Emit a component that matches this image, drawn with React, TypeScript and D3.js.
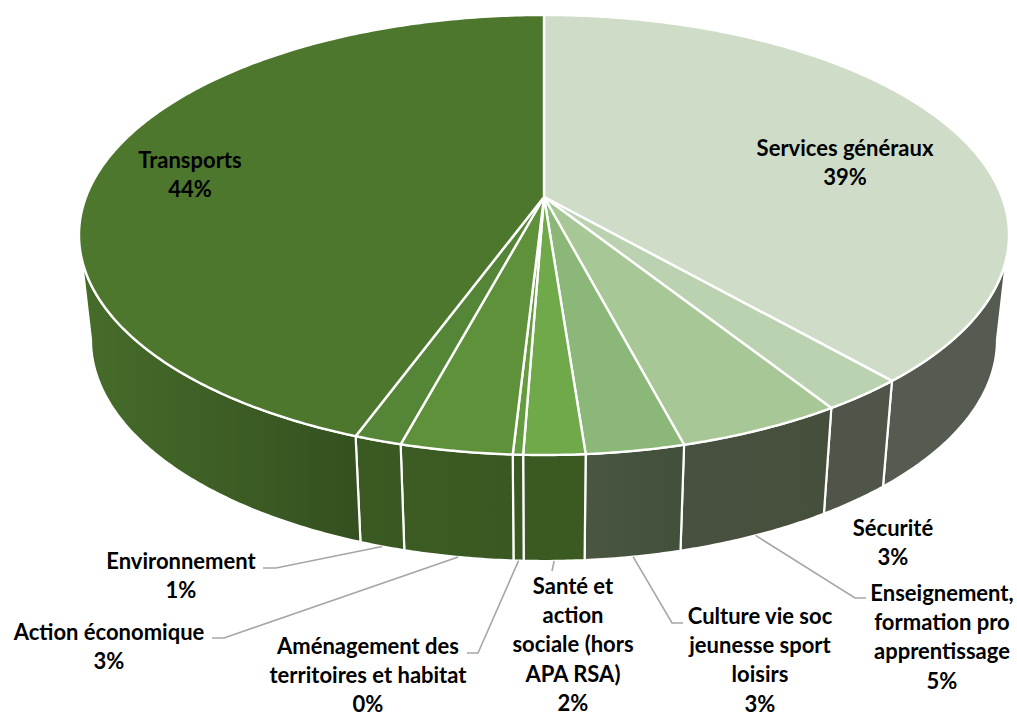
import React from 'react';
import * as d3 from 'd3';

//slice shares, clockwise from 12 o'clock
const categories = [
  'Services généraux',
  'Sécurité',
  'Enseignement, formation pro apprentissage',
  'Culture vie soc jeunesse sport loisirs',
  'Santé et action sociale (hors APA RSA)',
  'Aménagement des territoires et habitat',
  'Action économique',
  'Environnement',
  'Transports',
];
const shares = [38.5, 2.5, 4.9, 2.9, 1.8, 0.3, 3.3, 1.4, 44.4];
const percentLabels = ['39%', '3%', '5%', '3%', '2%', '0%', '3%', '1%', '44%'];

const topColors = ['#cfddc8', '#bbd2b0', '#a8c796', '#8bb878', '#6fa94a', '#669c40', '#5e913a', '#558637', '#4e772e'];
const wallLeft = ['#565b51', '#4f5649', '#485140', '#4a5642', '#3a5a22', '#3a5a22', '#3c5c23', '#3b5a22', '#466c2a'];
const wallRight = ['#565b51', '#4f5649', '#464f3b', '#41503a', '#3a5a22', '#3a5a22', '#3a5821', '#3a5821', '#345020'];

//label layout: wrapped lines, centre x, first baseline, leader elbow + end
const labelLayout: { lines: string[]; x: number; y: number; leader?: [number, number][] }[] = [
  { lines: ['Services généraux'], x: 845, y: 156 },
  { lines: ['Sécurité'], x: 893, y: 536 },
  { lines: ['Enseignement,', 'formation pro', 'apprentissage'], x: 942, y: 601, leader: [[855, 598], [866, 598]] },
  { lines: ['Culture vie soc', 'jeunesse sport', 'loisirs'], x: 760, y: 624, leader: [[672, 623], [683, 623]] },
  { lines: ['Santé et', 'action', 'sociale (hors', 'APA RSA)'], x: 573, y: 594, leader: [[552, 571]] },
  { lines: ['Aménagement des', 'territoires et habitat'], x: 368, y: 653.5, leader: [[478, 653], [467, 653]] },
  { lines: ['Action économique'], x: 109, y: 640, leader: [[224, 638], [212, 638]] },
  { lines: ['Environnement'], x: 181, y: 569, leader: [[276, 568], [263, 568]] },
  { lines: ['Transports'], x: 190, y: 168 },
];

const width = 1017;
const height = 712;
const cx = 544;
const apexY = 197;
const top = { cy: 235, rx: 465, ry: 220 };
const bottom = { cy: 340, rx: 453, ry: 221 };
const lineGap = 29.2;

//perspective: the pie centre sits above the centre of the rim ellipse
const persp = 76 / 440;
const perspY = -179.4;
const perspX = 458;

const rimParam = (angle: number) => {
  const w = 1 + persp * Math.cos(angle);
  const x = (perspX * Math.sin(angle)) / w;
  const y = (apexY + perspY * Math.cos(angle)) / w;
  let t = Math.atan2(x / top.rx, -(y - top.cy) / top.ry);
  if (t < 0) t += 2 * Math.PI;
  return t;
};

const onRim = (e: typeof top, t: number): [number, number] => [cx + e.rx * Math.sin(t), e.cy - e.ry * Math.cos(t)];

const sample = (e: typeof top, t0: number, t1: number) => {
  const n = Math.max(2, Math.ceil(Math.abs(t1 - t0) / 0.01));
  return d3.range(n + 1).map((i) => onRim(e, t0 + ((t1 - t0) * i) / n));
};

const rad = (deg: number) => (deg * Math.PI) / 180;
const path = d3.line();

export default function App() {
  const arcs = d3.pie<number>().sort(null).value((d) => d)(shares);

  const slices = arcs.map((a, i) => {
    const t0 = rimParam(a.startAngle);
    // last slice closes at the top of the ellipse
    const t1 = i === arcs.length - 1 ? 2 * Math.PI : rimParam(a.endAngle);
    const face = (path([[cx, apexY], ...sample(top, t0, t1)]) || '') + 'Z';

    //wall only on the front half, top edge tangent is a bit below the bottom edge one
    const topFrom = Math.max(t0, rad(96));
    const topTo = Math.min(t1, rad(264));
    const botFrom = Math.max(t0, rad(90));
    const botTo = Math.min(t1, rad(270));
    const wallPts = [...sample(top, topFrom, topTo), ...sample(bottom, botTo, botFrom)];
    const wall = (path(wallPts) || '') + 'Z';
    const xs = d3.extent(wallPts, (p) => p[0]) as [number, number];

    const tMid = (Math.max(t0, rad(90)) + Math.min(t1, rad(270))) / 2;
    return { i, face, wall, xs, anchor: onRim(bottom, tMid) };
  });

  const font = 'Lato, Carlito, Calibri, sans-serif';

  return (
    <svg
      width={width}
      height={height}
      viewBox={`0 0 ${width} ${height}`}
      style={{ position: 'absolute', left: 0, top: 0, background: '#ffffff' }}
    >
      <defs>
        {slices.map((s) => (
          <linearGradient key={s.i} id={`wall-${s.i}`} gradientUnits="userSpaceOnUse" x1={s.xs[0]} x2={s.xs[1]} y1={0} y2={0}>
            <stop offset="0%" stopColor={wallLeft[s.i]} />
            <stop offset="100%" stopColor={wallRight[s.i]} />
          </linearGradient>
        ))}
      </defs>

      {slices.map((s) => (
        <path key={s.i} d={s.wall} fill={`url(#wall-${s.i})`} stroke="#ffffff" strokeWidth={2.2} strokeLinejoin="round" />
      ))}
      {slices.map((s) => (
        <path key={s.i} d={s.face} fill={topColors[s.i]} stroke="#ffffff" strokeWidth={2.4} strokeLinejoin="round" />
      ))}

      {/* leader lines */}
      {labelLayout.map((l, i) =>
        l.leader ? (
          <path key={i} d={path([slices[i].anchor, ...l.leader]) || ''} fill="none" stroke="#a6a6a6" strokeWidth={1.6} />
        ) : null
      )}

      {/* labels */}
      {labelLayout.map((l, i) => (
        <text
          key={categories[i]}
          x={l.x}
          y={l.y}
          textAnchor="middle"
          fontFamily={font}
          fontWeight={700}
          fontSize={22}
          fill="#000000"
        >
          {[...l.lines, percentLabels[i]].map((line, j) => (
            <tspan key={j} x={l.x} y={l.y + j * lineGap}>
              {line}
            </tspan>
          ))}
        </text>
      ))}
    </svg>
  );
}
